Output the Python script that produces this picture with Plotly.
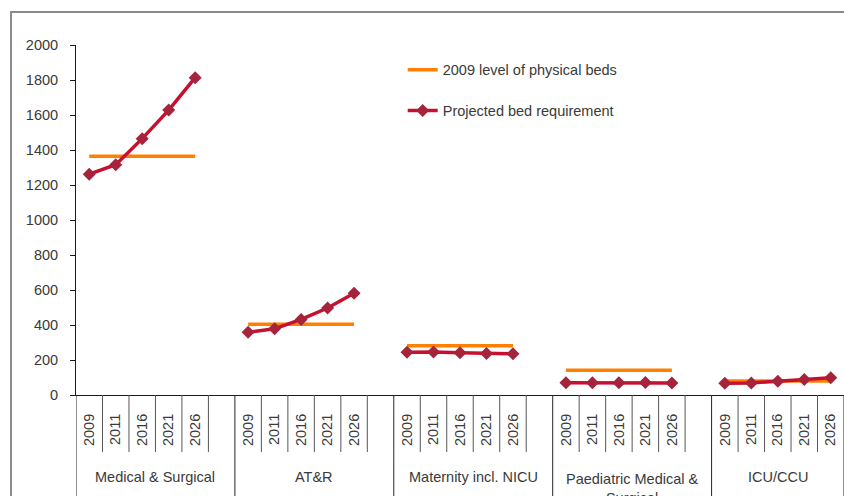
import plotly.graph_objects as go

# Bed categories, projection years and values (beds)
groups = ["Medical & Surgical", "AT&R", "Maternity incl. NICU",
          "Paediatric Medical &<br>Surgical", "ICU/CCU"]
years = ["2009", "2011", "2016", "2021", "2026"]
level_2009 = [1365, 404, 282, 141, 80]
projected = [
    [1262, 1316, 1465, 1628, 1813],
    [359, 378, 432, 497, 581],
    [245, 246, 242, 237, 236],
    [70, 70, 70, 71, 69],
    [67, 69, 79, 89, 99],
]

SLOTS = len(years) + 1          # five years plus an empty spacer per group
N_SLOTS = SLOTS * len(groups) - 1

ORANGE = "#FF8000"
RED = "#C8102E"
MARKER = "#A5243C"
TEXT = "#3a3a3a"
FONT = "Liberation Sans, Arial, sans-serif"
FS = 14.5

fig = go.Figure()

xs_all, ticks_all = [], []
for g, name in enumerate(groups):
    xs = [SLOTS * g + j + 0.5 for j in range(len(years))]
    xs_all += xs
    ticks_all += years
    fig.add_trace(go.Scatter(
        x=xs, y=[level_2009[g]] * len(years), mode="lines",
        line=dict(color=ORANGE, width=3.5),
        name="2009 level of physical beds", legendgroup="level",
        showlegend=(g == 0), hoverinfo="skip"))
for g, name in enumerate(groups):
    xs = [SLOTS * g + j + 0.5 for j in range(len(years))]
    fig.add_trace(go.Scatter(
        x=xs, y=projected[g], mode="lines+markers",
        line=dict(color=RED, width=3.5),
        marker=dict(symbol="diamond", size=10, color=MARKER),
        name="Projected bed requirement", legendgroup="proj",
        showlegend=(g == 0)))

# Category separators below the axis: short between years, long between groups
shapes = []
for k in range(0, N_SLOTS + 1):
    long_line = (k % SLOTS == 0) or k == N_SLOTS
    shapes.append(dict(
        type="line", xref="x", yref="paper", x0=k, x1=k,
        y0=0, y1=-0.45 if long_line else -0.163,
        line=dict(color="#262626" if long_line else "#555555", width=1)))

# Chart-area border
shapes.append(dict(type="rect", xref="paper", yref="paper",
                   x0=-0.0846, x1=1.2, y0=-0.6, y1=1.0943,
                   line=dict(color="#8a8a8a", width=2), layer="below"))

annotations = []
for g, name in enumerate(groups):
    span = SLOTS if g < len(groups) - 1 else SLOTS - 1
    cx = SLOTS * g + span / 2
    multi = "<br>" in name
    annotations.append(dict(
        x=cx, xref="x", y=-0.2114 if multi else -0.2343, yref="paper",
        text=name, showarrow=False,
        yanchor="top" if multi else "middle", xanchor="center",
        font=dict(family=FONT, size=FS, color=TEXT)))

fig.update_layout(
    width=844, height=496,
    margin=dict(l=76, r=0, t=45, b=101),
    paper_bgcolor="white", plot_bgcolor="white",
    font=dict(family=FONT, size=FS, color=TEXT),
    showlegend=True,
    legend=dict(x=0.4254, y=0.975, xanchor="left", yanchor="top",
                bgcolor="rgba(0,0,0,0)", tracegroupgap=19,
                font=dict(family=FONT, size=FS, color=TEXT)),
    shapes=shapes, annotations=annotations,
    xaxis=dict(range=[0, N_SLOTS], tickmode="array",
               tickvals=xs_all, ticktext=ticks_all, tickangle=-90,
               ticks="", showgrid=False, zeroline=False,
               showline=True, linecolor="#1a1a1a", linewidth=1,
               ticklabelstandoff=12, fixedrange=True),
    yaxis=dict(range=[0, 2000], dtick=200, ticks="outside", ticklen=5,
               tickcolor="#1a1a1a", showgrid=False, zeroline=False,
               showline=True, linecolor="#1a1a1a", linewidth=1,
               ticklabelstandoff=9, fixedrange=True),
)

fig.write_html("out.html")
